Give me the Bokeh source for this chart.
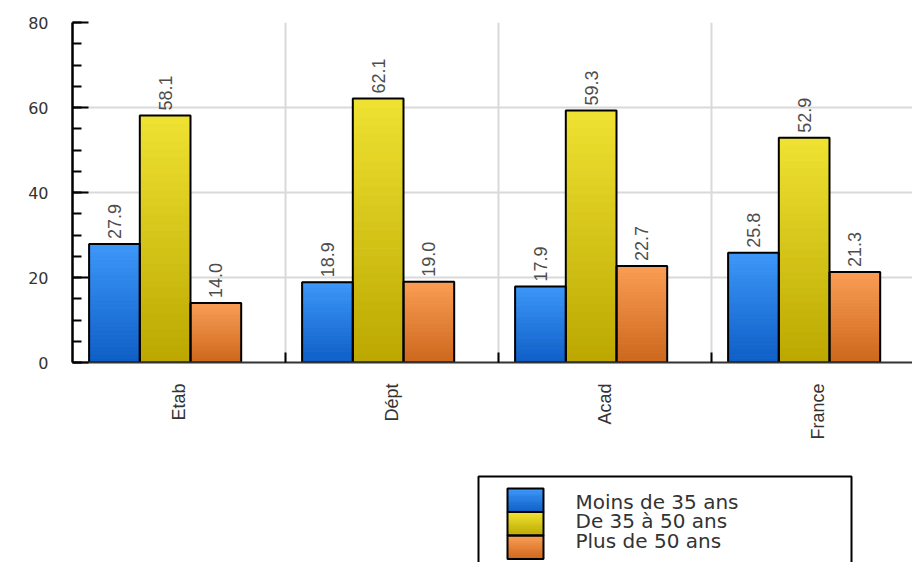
import numpy as np
from bokeh.plotting import figure
from bokeh.layouts import column
from bokeh.models import (Range1d, FixedTicker, SingleIntervalTicker, ColumnDataSource)
from bokeh.core.properties import value
from bokeh.embed import file_html
from bokeh.resources import INLINE

# ---------------- data ----------------
categories = ["Etab", "Dépt", "Acad", "France"]
series_names = ["Moins de 35 ans", "De 35 à 50 ans", "Plus de 50 ans"]
moins_35 = [27.9, 18.9, 17.9, 25.8]
de_35_50 = [58.1, 62.1, 59.3, 52.9]
plus_50 = [14.0, 19.0, 22.7, 21.3]
y_ticks = [0, 20, 40, 60, 80]

series_values = [moins_35, de_35_50, plus_50]

# ---------------- style ----------------
top_colors = ["#3d97f8", "#efe232", "#fa9d54"]
bottom_colors = ["#0e5ec6", "#bba700", "#cc671c"]
bar_offsets = [0.078, 0.316, 0.554]
bar_width = 0.238
n_slices = 30
LABEL_FONT = "Liberation Sans"

W = 912
LEFT = 72
CAT_PX = 213
p = figure(width=W, height=470, output_backend="svg", toolbar_location=None,
           x_range=Range1d(0, (W - LEFT) / CAT_PX),
           y_range=Range1d(y_ticks[0], y_ticks[-1]),
           min_border_left=LEFT, min_border_top=22, min_border_bottom=108,
           min_border_right=0)
p.outline_line_color = None
p.background_fill_color = "white"
p.border_fill_color = "white"


def hex_to_rgb(h):
    h = h.lstrip("#")
    return np.array([int(h[i:i + 2], 16) for i in (0, 2, 4)], dtype=float)


def rgb_to_hex(c):
    return "#%02x%02x%02x" % tuple(int(round(v)) for v in c)


def gradient_quads(fig, lefts, rights, tops, bottoms, s, n):
    c_top = hex_to_rgb(top_colors[s])
    c_bot = hex_to_rgb(bottom_colors[s])
    L, R, T, B, C = [], [], [], [], []
    for l, r, t0, b0 in zip(lefts, rights, tops, bottoms):
        for k in range(n):
            f = (k + 0.5) / n
            L.append(l)
            R.append(r)
            B.append(b0 + (t0 - b0) * k / n)
            T.append(b0 + (t0 - b0) * (k + 1) / n)
            C.append(rgb_to_hex(c_bot + (c_top - c_bot) * f))
    src = ColumnDataSource(dict(left=L, right=R, top=T, bottom=B, color=C))
    fig.quad(left="left", right="right", top="top", bottom="bottom", source=src,
             fill_color="color", line_color="color", line_width=1)


# bars: gradient fill, outline, value labels
for s, vals in enumerate(series_values):
    lefts = [i + bar_offsets[s] for i in range(len(vals))]
    rights = [l + bar_width for l in lefts]
    gradient_quads(p, lefts, rights, vals, [0] * len(vals), s, n_slices)
for s, vals in enumerate(series_values):
    lefts = [i + bar_offsets[s] for i in range(len(vals))]
    src = ColumnDataSource(dict(
        left=lefts, right=[l + bar_width for l in lefts], top=vals,
        bottom=[0] * len(vals), xc=[l + bar_width / 2 for l in lefts],
        label=["%.1f" % v for v in vals]))
    p.quad(left="left", right="right", top="top", bottom="bottom", source=src,
           fill_alpha=0, line_color="black", line_width=2)
    p.text(x="xc", y="top", text="label", source=src, angle=np.pi / 2,
           text_align="left", text_baseline="middle", y_offset=-5,
           text_font=value(LABEL_FONT), text_font_size="18px",
           text_color="#4d4d4d")

# y axis
yt = SingleIntervalTicker(interval=20, num_minor_ticks=4)
p.yaxis.ticker = yt
p.yaxis.axis_line_color = "black"
p.yaxis.axis_line_width = 2.5
p.yaxis.major_tick_in = 16
p.yaxis.major_tick_out = 0
p.yaxis.minor_tick_in = 9
p.yaxis.minor_tick_out = 0
p.yaxis.major_tick_line_color = "black"
p.yaxis.minor_tick_line_color = "black"
p.yaxis.major_tick_line_width = 2
p.yaxis.minor_tick_line_width = 2
p.yaxis.major_label_standoff = 24
p.yaxis.major_label_text_font = "DejaVu Sans"
p.yaxis.major_label_text_font_size = "16px"
p.yaxis.major_label_text_color = "#333333"
p.ygrid.ticker = yt
p.ygrid.grid_line_color = "#d9d9d9"
p.ygrid.grid_line_width = 2

# x axis
centers = [i + 0.5 for i in range(len(categories))]
bounds = [i for i in range(1, len(categories))]
p.xaxis.ticker = FixedTicker(ticks=centers, minor_ticks=bounds)
p.xaxis.major_label_overrides = {c: lab for c, lab in zip(centers, categories)}
p.xaxis.major_tick_line_color = None
p.xaxis.minor_tick_in = 10
p.xaxis.minor_tick_out = 0
p.xaxis.minor_tick_line_color = "black"
p.xaxis.minor_tick_line_width = 2
p.xaxis.axis_line_color = "#333333"
p.xaxis.axis_line_width = 2
p.xaxis.major_label_orientation = np.pi / 2
p.xaxis.major_label_standoff = 15
p.xaxis.major_label_text_font = LABEL_FONT
p.xaxis.major_label_text_font_size = "18px"
p.xaxis.major_label_text_color = "#333333"
p.xgrid.ticker = FixedTicker(ticks=bounds)
p.xgrid.grid_line_color = "#d9d9d9"
p.xgrid.grid_line_width = 2

# ---------------- legend panel (pixel coordinates) ----------------
LH = 92
lg = figure(width=W, height=LH, output_backend="svg", toolbar_location=None,
            x_range=Range1d(LEFT, W), y_range=Range1d(0, LH),
            min_border_left=LEFT, min_border_right=0, min_border_top=0,
            min_border_bottom=0, x_axis_type=None, y_axis_type=None)
lg.outline_line_color = None
lg.xgrid.visible = False
lg.ygrid.visible = False
lg.background_fill_color = "white"
lg.border_fill_color = "white"

lg.quad(left=[478], right=[851], top=[86], bottom=[-30],
        fill_color="white", line_color="black", line_width=2)
row_tops = [74, 50.5, 27]
row_h = 23.5
text_y = [60.5, 41.5, 21.5]
for s in range(len(series_names)):
    gradient_quads(lg, [507], [543], [row_tops[s]], [row_tops[s] - row_h], s, 10)
lg.quad(left=[507] * 3, right=[543] * 3, top=row_tops,
        bottom=[t - row_h for t in row_tops], fill_alpha=0,
        line_color="black", line_width=2)
lg.text(x=[575] * 3, y=text_y, text=series_names, text_baseline="middle",
        text_align="left", text_font=value("DejaVu Sans"),
        text_font_size="20px", text_color="#333333")

layout = column(p, lg, spacing=0)
open("out.html", "w").write(file_html(layout, INLINE))
